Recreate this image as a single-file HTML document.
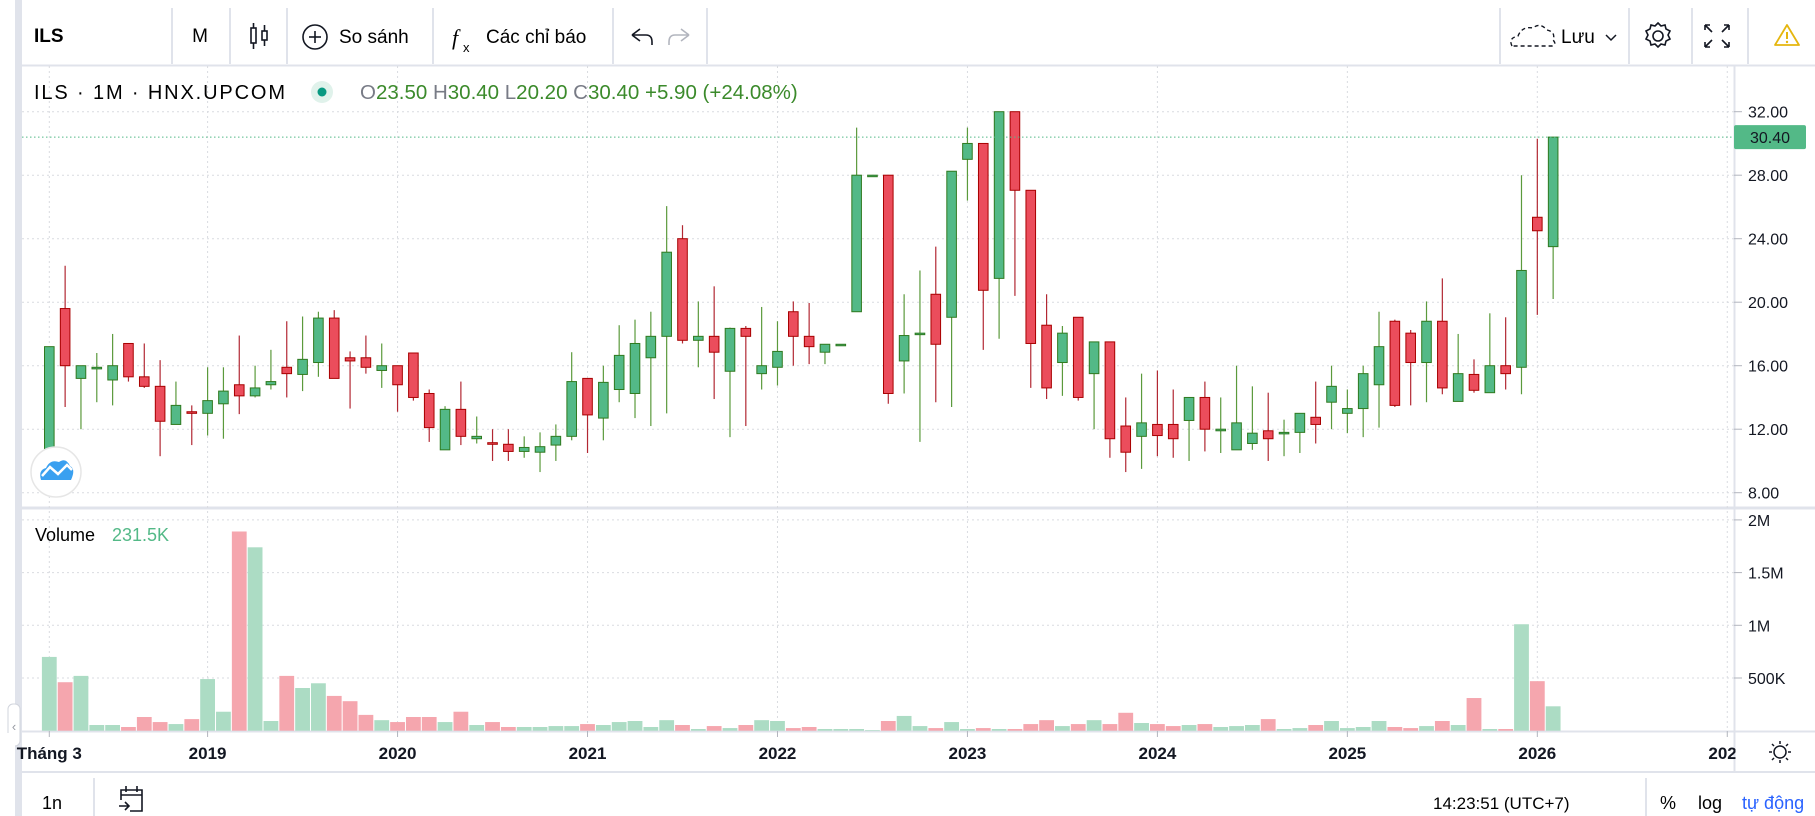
<!DOCTYPE html>
<html><head><meta charset="utf-8">
<style>
html,body{margin:0;padding:0;background:#fff;}
body{width:1815px;height:816px;overflow:hidden;position:relative;font-family:"Liberation Sans","Noto Sans CJK SC",sans-serif;color:#131722;}
svg{position:absolute;left:0;top:0;}
</style></head>
<body>
<svg id="chart" width="1815" height="816" viewBox="0 0 1815 816" font-family="Liberation Sans, sans-serif">
  <rect x="15" y="0" width="7" height="816" fill="#e0e3eb"/>
  <rect x="8" y="704" width="12" height="42" rx="5" fill="#fff" stroke="#d1d4dc"/>
  <text x="14" y="731" font-size="13" fill="#9598a1" text-anchor="middle">‹</text>

  <g>
    <line x1="22" y1="65.5" x2="1815" y2="65.5" stroke="#e0e3eb" stroke-width="2"/>
    <text x="34" y="42" font-size="19" font-weight="bold">ILS</text>
    <line x1="172" y1="8" x2="172" y2="64" stroke="#e0e3eb" stroke-width="2"/>
    <text x="200" y="42" font-size="19" text-anchor="middle">M</text>
    <line x1="230" y1="8" x2="230" y2="64" stroke="#e0e3eb" stroke-width="2"/>
    <g stroke="#131722" fill="none" stroke-width="1.6">
      <rect x="251" y="28" width="5" height="15"/><line x1="253.5" y1="23" x2="253.5" y2="28"/><line x1="253.5" y1="43" x2="253.5" y2="49"/>
      <rect x="262" y="31" width="5" height="9"/><line x1="264.5" y1="25" x2="264.5" y2="31"/><line x1="264.5" y1="40" x2="264.5" y2="46"/>
    </g>
    <line x1="287" y1="8" x2="287" y2="64" stroke="#e0e3eb" stroke-width="2"/>
    <g>
      <circle cx="315" cy="37" r="12" fill="none" stroke="#131722" stroke-width="1.6"/>
      <line x1="309" y1="37" x2="321" y2="37" stroke="#131722" stroke-width="1.6"/><line x1="315" y1="31" x2="315" y2="43" stroke="#131722" stroke-width="1.6"/>
      <text x="339" y="43" font-size="19">So sánh</text>
    </g>
    <line x1="433" y1="8" x2="433" y2="64" stroke="#e0e3eb" stroke-width="2"/>
    <g>
      <text x="452" y="45" font-size="22" font-style="italic" font-family="Liberation Serif, serif">f</text>
      <text x="463" y="52" font-size="13">x</text>
      <text x="486" y="43" font-size="19">Các chỉ báo</text>
    </g>
    <line x1="613" y1="8" x2="613" y2="64" stroke="#e0e3eb" stroke-width="2"/>
    <path d="M632 35 L640 29 M632 35 L640 41 M632 35 H646 Q652 35 652 42 V45" fill="none" stroke="#131722" stroke-width="1.6"/>
    <path d="M689 35 L681 29 M689 35 L681 41 M689 35 H675 Q669 35 669 42 V45" fill="none" stroke="#b2b5be" stroke-width="1.6"/>
    <line x1="707" y1="8" x2="707" y2="64" stroke="#e0e3eb" stroke-width="2"/>
    <line x1="1500" y1="8" x2="1500" y2="64" stroke="#e0e3eb" stroke-width="2"/>
    <g>
      <path d="M1512 46 Q1508 38 1518 36 Q1522 26 1533 28 Q1540 22 1547 30 Q1556 32 1553 40 Q1557 44 1552 46 Z" fill="none" stroke="#131722" stroke-width="1.4" stroke-dasharray="4 3"/>
      <text x="1561" y="43" font-size="19">Lưu</text>
      <path d="M1606 35 L1611 40 L1616 35" fill="none" stroke="#131722" stroke-width="1.5"/>
    </g>
    <line x1="1629" y1="8" x2="1629" y2="64" stroke="#e0e3eb" stroke-width="2"/>
    <g fill="none" stroke="#131722" stroke-width="1.6">
      <circle cx="1658" cy="36" r="5"/>
      <path d="M1658 23 l3 3 l4 -1 l1 4 l4 2 l-2 4 l2 4 l-4 2 l-1 4 l-4 -1 l-3 3 l-3 -3 l-4 1 l-1 -4 l-4 -2 l2 -4 l-2 -4 l4 -2 l1 -4 l4 1 z"/>
    </g>
    <line x1="1692" y1="8" x2="1692" y2="64" stroke="#e0e3eb" stroke-width="2"/>
    <g fill="none" stroke="#131722" stroke-width="1.6">
      <path d="M1705 25 l7 7 M1705 25 h5 M1705 25 v5"/><path d="M1729 25 l-7 7 M1729 25 h-5 M1729 25 v5"/>
      <path d="M1705 47 l7 -7 M1705 47 h5 M1705 47 v-5"/><path d="M1729 47 l-7 -7 M1729 47 h-5 M1729 47 v-5"/>
    </g>
    <line x1="1748" y1="8" x2="1748" y2="64" stroke="#e0e3eb" stroke-width="2"/>
    <g>
      <path d="M1787 25 L1799 45 H1775 Z" fill="none" stroke="#e5b60f" stroke-width="1.8" stroke-linejoin="round"/>
      <line x1="1787" y1="32" x2="1787" y2="39" stroke="#e5b60f" stroke-width="2"/><circle cx="1787" cy="42" r="1.2" fill="#e5b60f"/>
    </g>
  </g>

  <line x1="22" y1="508" x2="1815" y2="508" stroke="#e0e3eb" stroke-width="3"/>
  <line x1="1734.5" y1="66" x2="1734.5" y2="772" stroke="#e0e3eb" stroke-width="2"/>
  <line x1="22" y1="731.5" x2="1815" y2="731.5" stroke="#e0e3eb" stroke-width="2"/>
  <line x1="22" y1="772" x2="1815" y2="772" stroke="#e0e3eb" stroke-width="2"/>

  <g id="grid"></g>
  <g id="vol"></g>
  <g id="candles"></g>
  <g id="axes"></g>

  <g>
    <text x="34" y="99" font-size="20" textLength="251" lengthAdjust="spacing">ILS · 1M · HNX.UPCOM</text>
    <circle cx="322" cy="92" r="11" fill="#e0f2eb"/>
    <circle cx="322" cy="92" r="4.5" fill="#089981"/>
    <text x="360" y="99" font-size="20.5" fill="#3b8a2b"><tspan fill="#787b86">O</tspan>23.50 <tspan fill="#787b86">H</tspan>30.40 <tspan fill="#787b86">L</tspan>20.20 <tspan fill="#787b86">C</tspan>30.40 +5.90 (+24.08%)</text>
  </g>
  <g>
    <text x="35" y="541" font-size="18">Volume</text>
    <text x="112" y="541" font-size="18" fill="#53b987">231.5K</text>
  </g>
  <g>
    <circle cx="56" cy="472" r="25" fill="#fff" stroke="#e6e6e6" stroke-width="1.5"/>
    <path d="M41 480 Q38 470 46 468 Q50 459 59 462 Q66 457 70 466 Q76 469 71 480 Z" fill="#3aa0f0"/>
    <path d="M42 476 L50 467 L58 474 L67 465 L72 470" fill="none" stroke="#fff" stroke-width="2.5"/>
  </g>

  <g>
    <text x="42" y="809" font-size="18">1n</text>
    <line x1="94" y1="778" x2="94" y2="816" stroke="#e0e3eb" stroke-width="2"/>
    <g fill="none" stroke="#131722" stroke-width="1.6">
      <path d="M121 800 V790 H142 V811 H130"/><line x1="121" y1="795" x2="142" y2="795"/><line x1="126" y1="786" x2="126" y2="792"/><line x1="137" y1="786" x2="137" y2="792"/>
      <path d="M119 806 H129 M125 802 L129 806 L125 810"/>
    </g>
    <text x="1433" y="809" font-size="17">14:23:51 (UTC+7)</text>
    <line x1="1646" y1="778" x2="1646" y2="816" stroke="#e0e3eb" stroke-width="2"/>
    <text x="1660" y="809" font-size="18">%</text>
    <text x="1698" y="809" font-size="18">log</text>
    <text x="1742" y="809" font-size="18" fill="#2962ff">tự động</text>
  </g>
  <g fill="none" stroke="#131722" stroke-width="1.5">
    <circle cx="1780" cy="752" r="6"/>
    <path d="M1780 741 v3 M1780 760 v3 M1769 752 h3 M1788 752 h3 M1772 744 l2 2 M1786 758 l2 2 M1788 744 l-2 2 M1772 760 l2 -2"/>
  </g>
</svg>

<script>
const startYear = 2018, startMonth = 3;
const opens = [10.6,19.6,15.2,15.8,15.1,17.4,15.3,14.7,12.3,13.1,
13.0,13.6,14.8,14.1,14.8,15.9,15.45,16.2,19.0,16.5,
16.5,15.7,16.0,16.8,14.25,10.7,13.25,11.4,11.15,11.05,
10.6,10.55,11.0,11.55,15.2,12.7,14.5,14.25,16.5,17.85,
24.0,17.6,17.85,15.65,18.35,15.5,15.9,19.4,17.85,16.85,
17.3,19.4,28,28,16.3,18.0,20.5,19.05,29.0,30,
21.5,32,27.05,18.55,16.2,19.05,15.5,17.5,12.2,11.55,
12.3,12.3,12.55,14.0,11.9,10.7,11.1,11.9,11.8,11.8,
12.75,13.7,13.0,13.3,14.8,18.8,18.05,16.2,18.8,13.75,
15.45,14.3,16.0,15.9,25.35,23.5];
const highs = [17.2,22.3,16.0,16.8,18.0,17.4,17.4,16.35,15.0,13.5,
15.9,15.9,17.9,16.0,17.0,18.8,19.1,19.4,19.5,16.9,
17.9,17.4,16.0,16.8,14.5,13.45,15.0,12.8,12.0,12.0,
11.55,11.8,12.3,16.85,15.2,16.0,18.55,18.9,19.4,26.05,
24.85,20.05,21.0,18.4,18.5,19.7,18.8,20.05,19.95,17.35,
17.35,31.0,28,28,20.5,22.0,23.5,28.25,31.0,30,
32,32,27.05,20.5,18.5,19.05,17.5,17.5,14.0,15.5,
15.7,14.5,14.0,15.0,14.0,16.0,14.7,14.3,12.6,13.0,
15.0,16.0,14.5,16.0,19.4,18.9,18.25,20.05,21.5,18.0,
16.4,19.3,19.05,28.0,30.3,30.4];
const lows = [10.0,13.4,12.0,13.7,13.5,15.0,14.6,10.3,12.3,11.0,
11.6,11.4,12.95,14.0,14.5,14.0,14.4,15.3,15.2,13.3,
15.5,14.6,13.1,13.8,11.2,10.7,11.0,11.1,10.0,10.0,
10.2,9.3,10.0,11.3,10.5,11.3,13.7,12.7,12.2,13.0,
17.4,15.9,13.9,11.5,12.2,14.5,14.75,16.0,16.1,16.1,
17.3,19.4,28,13.6,14.25,11.2,13.7,13.4,26.4,17.0,
17.7,20.4,14.6,13.9,14.1,13.8,12.0,10.2,9.3,9.5,
10.3,10.2,10.0,10.6,10.5,10.7,10.7,10.0,10.3,10.5,
11.1,12.0,11.75,11.5,12.1,13.4,13.5,13.7,14.2,13.75,
14.3,14.3,14.5,14.2,19.2,20.2];
const closes = [17.2,16.0,16.0,15.9,16.0,15.3,14.7,12.5,13.5,13.0,
13.8,14.4,14.1,14.6,15.0,15.5,16.4,19.0,15.2,16.3,
15.9,16.0,14.8,14.0,12.1,13.25,11.55,11.55,11.05,10.6,
10.85,10.9,11.55,15.0,12.9,14.95,16.65,17.4,17.85,23.15,
17.6,17.85,16.85,18.35,17.85,16.0,16.9,17.85,17.2,17.35,
17.35,28.0,28,14.25,17.9,18.05,17.35,28.25,30.0,20.75,
32,27.05,17.4,14.6,18.05,14.0,17.5,11.4,10.55,12.4,
11.6,11.4,14.0,12.0,12.0,12.4,11.75,11.4,11.8,13.0,
12.3,14.7,13.3,15.5,17.2,13.5,16.2,18.8,14.6,15.5,
14.45,16.0,15.5,22.0,24.5,30.4];
const volumes = [0.70,0.46,0.52,0.054,0.054,0.035,0.13,0.082,0.063,0.11,
0.49,0.18,1.89,1.74,0.092,0.52,0.405,0.45,0.33,0.28,
0.15,0.10,0.082,0.13,0.13,0.082,0.18,0.054,0.082,0.035,
0.035,0.035,0.044,0.044,0.063,0.054,0.082,0.092,0.035,0.10,
0.054,0.016,0.044,0.025,0.054,0.10,0.092,0.025,0.035,0.016,
0.016,0.016,0.006,0.092,0.14,0.044,0.025,0.082,0.016,0.025,
0.016,0.016,0.063,0.10,0.044,0.063,0.10,0.063,0.17,0.073,
0.063,0.044,0.054,0.063,0.035,0.044,0.054,0.11,0.016,0.025,
0.054,0.092,0.025,0.035,0.092,0.035,0.025,0.044,0.092,0.054,
0.31,0.016,0.016,1.01,0.47,0.2315];
const priceTicks = [32,28,24,20,16,12,8];
const priceTickLabels = ["32.00","28.00","24.00","20.00","16.00","12.00","8.00"];
const volTicks = [2,1.5,1,0.5];
const volTickLabels = ["2M","1.5M","1M","500K"];
const timeTickIdx = [0,10,22,34,46,58,70,82,94,106];
const timeTickLabels = ["Tháng 3","2019","2020","2021","2022","2023","2024","2025","2026","2027"];
const lastPrice = 30.40;

const X0 = 49.3, DX = 15.83;
function xOf(i){ return X0 + i*DX; }
function yP(p){ return 111.7 + (32 - p)*15.875; }
function yV(v){ return 730.7 - v*105.4; }

const NS = "http://www.w3.org/2000/svg";
function mk(tag, attrs, parent){
  const e = document.createElementNS(NS, tag);
  for (const k in attrs) e.setAttribute(k, attrs[k]);
  parent.appendChild(e);
  return e;
}
const grid = document.getElementById('grid');
const axes = document.getElementById('axes');
const vol = document.getElementById('vol');
const candles = document.getElementById('candles');

priceTicks.forEach((p, k) => {
  const l = mk('line', {x1:22, x2:1734, y1:yP(p), y2:yP(p), stroke:'#d9dbe0', 'stroke-width':1, 'stroke-dasharray':'2 3'}, grid);
  
  
  const tk = mk('line', {x1:1734, x2:1742, y1:yP(p), y2:yP(p), stroke:'#b2b5be'}, axes);
  
  
  const t = mk('text', {x:1748, y:yP(p)+6, 'font-size':16, fill:'#131722'}, axes);
  t.textContent = priceTickLabels[k];
  
  
});
volTicks.forEach((v, k) => {
  const l = mk('line', {x1:22, x2:1734, y1:yV(v), y2:yV(v), stroke:'#d9dbe0', 'stroke-width':1, 'stroke-dasharray':'2 3'}, grid);
  
  
  const tk = mk('line', {x1:1734, x2:1742, y1:yV(v), y2:yV(v), stroke:'#b2b5be'}, axes);
  
  
  const t = mk('text', {x:1748, y:yV(v)+6, 'font-size':16, fill:'#131722'}, axes);
  t.textContent = volTickLabels[k];
  
  
});
timeTickIdx.forEach((i, k) => {
  const x = xOf(i);
  if (x < 1734) {
    const l = mk('line', {x1:x, x2:x, y1:66, y2:731, stroke:'#d9dbe0', 'stroke-width':1, 'stroke-dasharray':'2 3'}, grid);
    
    
    const tk = mk('line', {x1:x, x2:x, y1:731, y2:737, stroke:'#b2b5be'}, axes);
    
    
  }
  const t = mk('text', {x:x, y:759, 'font-size':17, 'font-weight':'bold', 'text-anchor':'middle', fill:'#131722'}, axes);
  t.textContent = timeTickLabels[k];
  
  
});
const cl = mk('rect', {x:0, y:733, width:15, height:38, fill:'#fff'}, axes);


const cr = mk('rect', {x:1735.5, y:733, width:80, height:38, fill:'#fff'}, axes);



volumes.forEach((v, i) => {
  const up = closes[i] >= opens[i];
  const b = mk('rect', {x:xOf(i)-7.4, y:yV(v), width:14.8, height:Math.max(730.7 - yV(v), 0.5), fill: up ? '#acdcc4' : '#f5a6ae'}, vol);
  
  
});

opens.forEach((o, i) => {
  const c = closes[i], up = c >= o, x = xOf(i);
  const g = mk('g', {}, candles);
  
  
  mk('line', {x1:x, x2:x, y1:yP(highs[i]), y2:yP(lows[i]), stroke: up ? '#5b9a3c' : '#b22833', 'stroke-width':1.2}, g);
  const top = yP(Math.max(o, c)), bot = yP(Math.min(o, c));
  mk('rect', {x:x-4.8, y:top, width:9.6, height:Math.max(bot-top, 1.5), fill: up ? '#53b987' : '#eb4d5c', stroke: up ? '#2f7a1f' : '#a80000', 'stroke-width':1}, g);
});

const pl = mk('line', {x1:22, x2:1734, y1:yP(lastPrice), y2:yP(lastPrice), stroke:'#53b987', 'stroke-width':1, 'stroke-dasharray':'1.5 2.5'}, axes);


const lb = mk('rect', {x:1734, y:yP(lastPrice)-12, width:72, height:24, rx:2, fill:'#53b987'}, axes);


const lt = mk('text', {x:1750, y:yP(lastPrice)+6, 'font-size':16, fill:'#131722'}, axes);
lt.textContent = lastPrice.toFixed(2);


</script>
</body></html>
